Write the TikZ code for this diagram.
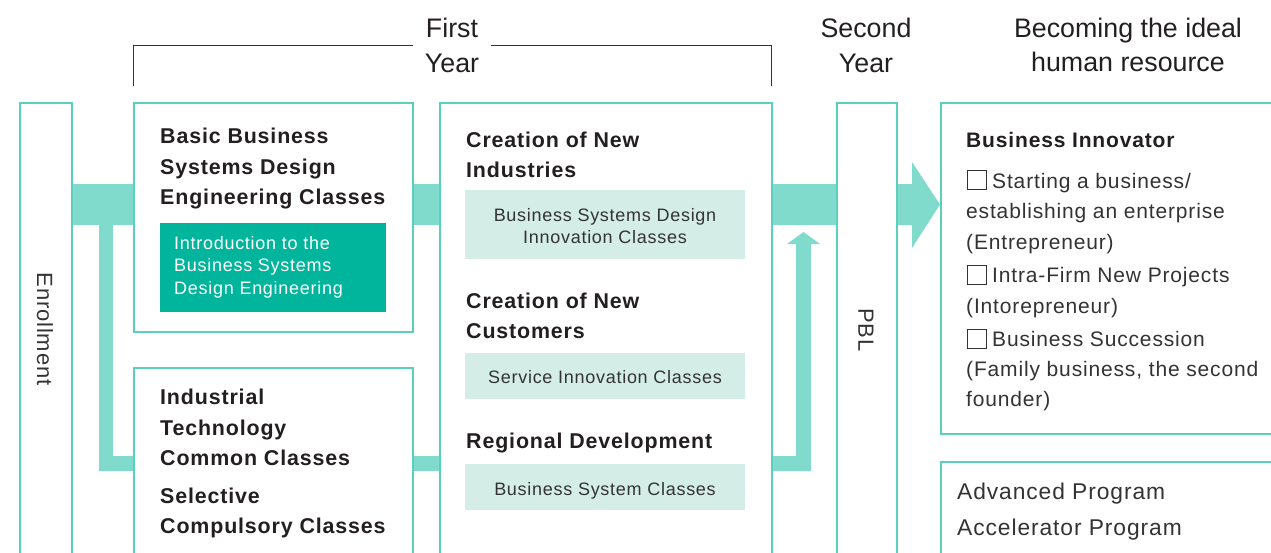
\documentclass[tikz,border=0pt]{standalone}
\usepackage{fontspec}
\setmainfont{Liberation Sans}[LetterSpace=4]
\newfontfamily\titlefont{Liberation Sans}
\definecolor{bordc}{HTML}{5ACFBC}
\definecolor{bandc}{HTML}{80DBCC}
\definecolor{darkg}{HTML}{00B59B}
\definecolor{lightg}{HTML}{D4EEE7}
\definecolor{txt}{HTML}{231F20}
\definecolor{txtr}{HTML}{333333}
\begin{document}
\begin{tikzpicture}[x=1pt,y=-1pt,
  box/.style={draw=bordc, line width=1.5pt, fill=white, inner sep=0pt, anchor=north west},
  fillbox/.style={inner sep=0pt, anchor=north west},
  bold/.style={anchor=base west, inner sep=0pt, text=txt, font=\fontsize{21.4}{30}\selectfont\bfseries},
  reg/.style={anchor=base west, inner sep=0pt, text=txtr, font=\fontsize{21}{30}\selectfont},
  small/.style={anchor=base, inner sep=0pt, text=txtr, font=\fontsize{18}{22}\selectfont},
  title/.style={anchor=base, inner sep=0pt, text=txt, font=\titlefont\fontsize{26.8}{30}\selectfont},
  chk/.style={draw=txtr, line width=0.8pt, inner sep=0pt, minimum size=19pt, anchor=north west},
  bandline/.style={draw=bandc}]
\useasboundingbox (0,0) rectangle (1271,552);
\clip (0,0) rectangle (1271,552);

% bands
\coordinate (bandL) at (71,204.5);
\coordinate (bandR) at (912,204.5);
\draw[bandline, line width=41pt] (bandL) -- (bandR);
\fill[bandc] (912,162) -- (940,204.5) -- (912,248) -- cycle;
\coordinate (lTop) at (106,225);
\coordinate (lCorner) at (106,463.5);
\coordinate (rCorner) at (803.5,463.5);
\coordinate (upEnd) at (803.5,243.5);
\draw[bandline, line width=14.5pt, miter limit=10] (lTop) -- (lCorner) -- (rCorner) -- (upEnd);
\fill[bandc] (787,244) -- (803.5,232) -- (820,244) -- cycle;

% boxes
\node[box, minimum width=52pt, minimum height=500pt] (enr) at (19,102) {};
\node[box, minimum width=279pt, minimum height=229pt] (basic) at (133,102) {};
\node[box, minimum width=279pt, minimum height=300pt] (indus) at (133,367) {};
\node[box, minimum width=332pt, minimum height=500pt] (mid) at (439,102) {};
\node[box, minimum width=60pt, minimum height=500pt] (pbl) at (836,102) {};
\node[box, minimum width=400pt, minimum height=331pt] (bi) at (940,102) {};
\node[box, minimum width=400pt, minimum height=200pt] (adv) at (940,461) {};

% vertical labels
\node[rotate=-90, text=txtr, font=\fontsize{22}{26}\selectfont] (enrT) at (45,329) {Enrollment};
\node[rotate=-90, text=txtr, font=\fontsize{22}{26}\selectfont] (pblT) at (866,330) {PBL};

% titles
\node[title] (t1a) at (452,37) {First};
\node[title] (t1b) at (452,72) {Year};
\node[title] (t2a) at (866,37) {Second};
\node[title] (t2b) at (866,72) {Year};
\node[title] (t3a) at (1128,37) {Becoming the ideal};
\node[title] (t3b) at (1128,71) {human resource};
\coordinate (brA) at (133,86);
\coordinate (brB) at (133,45);
\coordinate (brC) at (413,45);
\coordinate (brD) at (491,45);
\coordinate (brE) at (771,45);
\coordinate (brF) at (771,86);
\draw[draw=txtr, line width=1pt] (brA) -- (brB) -- (brC);
\draw[draw=txtr, line width=1pt] (brD) -- (brE) -- (brF);

% basic box
\node[bold] (b1) at (160,143) {Basic Business};
\node[bold] (b2) at (160,174) {Systems Design};
\node[bold] (b3) at (160,204) {Engineering Classes};
\node[fillbox, fill=darkg, minimum width=226pt, minimum height=89pt] (gbox) at (160,223) {};
\node[anchor=base west, inner sep=0pt, text=white, font=\fontsize{18}{22}\selectfont] (g1) at (174,249) {Introduction to the};
\node[anchor=base west, inner sep=0pt, text=white, font=\fontsize{18}{22}\selectfont] (g2) at (174,271.5) {Business Systems};
\node[anchor=base west, inner sep=0pt, text=white, font=\fontsize{18}{22}\selectfont] (g3) at (174,294) {Design Engineering};

% industrial box
\node[bold] (i1) at (160,404) {Industrial};
\node[bold] (i2) at (160,435) {Technology};
\node[bold] (i3) at (160,465) {Common Classes};
\node[bold] (i4) at (160,503) {Selective};
\node[bold] (i5) at (160,533) {Compulsory Classes};

% middle box
\node[bold] (m1) at (466,147.5) {Creation of New};
\node[bold] (m2) at (466,177) {Industries};
\node[fillbox, fill=lightg, minimum width=280pt, minimum height=69pt] (lb1) at (465,190) {};
\node[small] (l1a) at (605,221) {Business Systems Design};
\node[small] (l1b) at (605,243) {Innovation Classes};
\node[bold] (m3) at (466,308) {Creation of New};
\node[bold] (m4) at (466,338) {Customers};
\node[fillbox, fill=lightg, minimum width=280pt, minimum height=46pt] (lb2) at (465,353) {};
\node[small] (l2) at (605,383) {Service Innovation Classes};
\node[bold] (m5) at (466,448) {Regional Development};
\node[fillbox, fill=lightg, minimum width=280pt, minimum height=46pt] (lb3) at (465,464) {};
\node[small] (l3) at (605,495) {Business System Classes};

% business innovator
\node[bold, font=\fontsize{21}{30}\selectfont\bfseries] (r0) at (966,147) {Business Innovator};
\node[chk] (c1) at (967,170) {};
\node[reg] (r1) at (992,188) {Starting a business/};
\node[reg] (r2) at (966,218) {establishing an enterprise};
\node[reg] (r3) at (966,249) {(Entrepreneur)};
\node[chk] (c2) at (967,265) {};
\node[reg] (r4) at (992,282) {Intra-Firm New Projects};
\node[reg] (r5) at (966,313) {(Intorepreneur)};
\node[chk] (c3) at (967,329) {};
\node[reg] (r6) at (992,346) {Business Succession};
\node[reg] (r7) at (966,376) {(Family business, the second};
\node[reg] (r8) at (966,406) {founder)};

% advanced
\node[reg, font=\fontsize{22.8}{30}\selectfont] (a1) at (957,499) {Advanced Program};
\node[reg, font=\fontsize{22.8}{30}\selectfont] (a2) at (957,535) {Accelerator Program};
\end{tikzpicture}
\end{document}
